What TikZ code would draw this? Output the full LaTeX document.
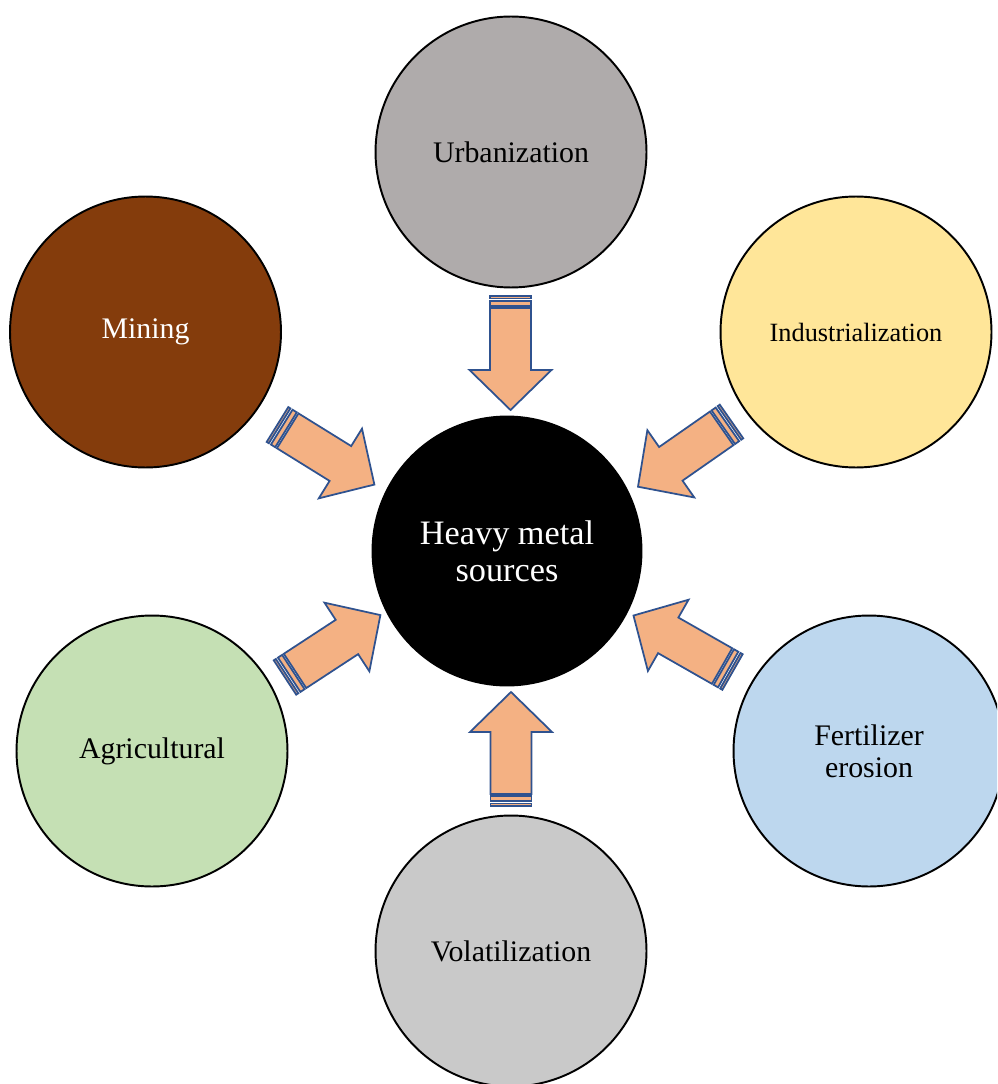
\documentclass[tikz,border=0pt]{standalone}
\usepackage{fontspec}
\setmainfont{Liberation Serif}

\definecolor{urbgrey}{HTML}{AFABAB}
\definecolor{minbrown}{HTML}{843C0C}
\definecolor{indgold}{HTML}{FFE699}
\definecolor{agrgreen}{HTML}{C5E0B4}
\definecolor{ferblue}{HTML}{BDD7EE}
\definecolor{volgrey}{HTML}{C9C9C9}
\definecolor{arrowfill}{HTML}{F4B183}
\definecolor{arrowline}{HTML}{2F528F}

\tikzset{
  source/.style={circle, draw=black, line width=1.1pt, minimum size=5.42cm,
                 inner sep=0pt, align=center, font=\fontsize{17}{18}\selectfont},
  stripe/.style={fill=arrowfill, draw=arrowline, line width=1pt, line join=miter},
  hmarrow/.pic={
    \filldraw[stripe] (0,-20.5) rectangle (2.5,20.5);
    \filldraw[stripe] (5,-20.5) rectangle (10,20.5);
    \filldraw[stripe] (12,-20.5) -- (74,-20.5) -- (74,-41) -- (114,0)
                      -- (74,41) -- (74,20.5) -- (12,20.5) -- cycle;
  }
}

\begin{document}
\begin{tikzpicture}[x=0.02cm, y=-0.02cm]
\useasboundingbox (0,0) rectangle (997,1084);
\clip (0,0) rectangle (997,1084);

\node[source, fill=urbgrey] (urban) at (511,152) {Urbanization};
\node[source, fill=minbrown, text=white] (mining) at (145.5,332) {Mining};
\node[source, fill=indgold, font=\fontsize{15}{16}\selectfont] (indust) at (856,332) {Industrialization};
\node[source, fill=agrgreen] (agri) at (152,751) {Agricultural};
\node[source, fill=ferblue] (fert) at (869,751) {Fertilizer\\erosion};
\node[source, fill=volgrey] (volat) at (511,951) {Volatilization};

\node[source, fill=black, text=white, minimum size=5.38cm,
      font=\fontsize{19.5}{21}\selectfont] (hub) at (507,551) {Heavy metal\\sources};

\pic[rotate=-90] (aurban) at (510.5,296) {hmarrow};
\pic[rotate=90] (avolat) at (511,806) {hmarrow};
\pic[rotate=-31.8] (amining) at (277.5,424.5) {hmarrow};
\pic[rotate=-145.1] (aindust) at (731.5,421.5) {hmarrow};
\pic[rotate=150.3] (afert) at (732.5,672) {hmarrow};
\pic[rotate=33.2] (aagri) at (285,677.5) {hmarrow};
\end{tikzpicture}
\end{document}
